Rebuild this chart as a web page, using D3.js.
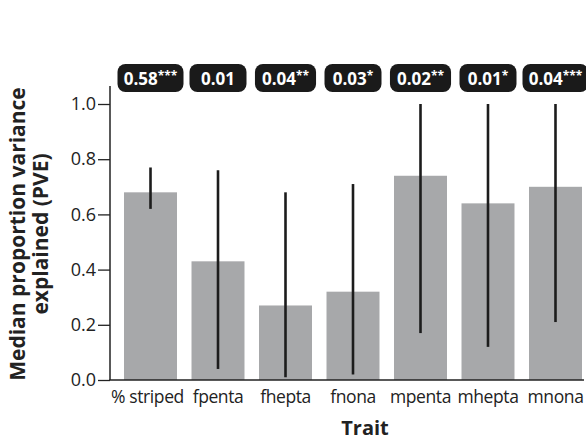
<!DOCTYPE html>
<html><head><meta charset="utf-8">
<script src="https://cdn.jsdelivr.net/npm/d3@7"></script>
<style>body{margin:0;background:#fff}svg{display:block}</style>
</head><body>
<svg id="c" width="586" height="441"></svg>
<script>
const traits = ["% striped","fpenta","fhepta","fnona","mpenta","mhepta","mnona"];
const pve = [0.68,0.43,0.27,0.32,0.74,0.64,0.70];
const lower = [0.62,0.04,0.01,0.02,0.17,0.12,0.21];
const upper = [0.77,0.76,0.68,0.71,1.0,1.0,1.0];
const pveLabel = ["0.58","0.01","0.04","0.03","0.02","0.01","0.04"];
const stars = ["***","","**","*","**","*","***"];
const yTicks = [0,0.2,0.4,0.6,0.8,1.0];

const svg = d3.select("#c");
const FONT = "'Open Sans', 'Noto Sans', sans-serif";
const y = d3.scaleLinear().domain([0,1]).range([380,104]);
const x = d3.scaleBand().domain(traits).range([109.5,596.5]).paddingInner(0.215).paddingOuter(0.215);

// bars
svg.selectAll("rect.bar").data(traits).enter().append("rect")
  .attr("x", d=>x(d)).attr("width", x.bandwidth())
  .attr("y", (d,i)=>y(pve[i])).attr("height",(d,i)=>y(0)-y(pve[i]))
  .attr("fill","#a7a8aa");
// error bars
svg.selectAll("line.err").data(traits).enter().append("line")
  .attr("x1", d=>x(d)+x.bandwidth()/2).attr("x2", d=>x(d)+x.bandwidth()/2)
  .attr("y1",(d,i)=>y(lower[i])).attr("y2",(d,i)=>y(upper[i]))
  .attr("stroke","#1c1c1c").attr("stroke-width",2.6);

// y axis
const yAxis = d3.axisLeft(y).tickValues(yTicks).tickFormat(d3.format(".1f")).tickSize(12).tickPadding(2);
const gy = svg.append("g").attr("transform","translate(110,0)").call(yAxis);
gy.select(".domain").remove();
gy.selectAll(".tick line").attr("stroke","#222").attr("stroke-width",1.3);
gy.selectAll(".tick text").attr("font-family",FONT).attr("font-size",18).attr("fill","#222");
svg.append("line").attr("x1",110).attr("x2",110).attr("y1",y(0)).attr("y2",86).attr("stroke","#222").attr("stroke-width",1.5);

// x axis
const xAxis = d3.axisBottom(x).tickSize(0).tickPadding(11);
const gx = svg.append("g").attr("transform","translate(0,380)").call(xAxis);
gx.select(".domain").remove();
gx.selectAll(".tick text").attr("font-family",FONT).attr("font-size",17.5).attr("letter-spacing",-0.4).attr("fill","#222");
gx.selectAll(".tick text").filter(d=>d==="% striped").attr("dx",-3);
svg.append("line").attr("x1",109.3).attr("x2",584).attr("y1",380).attr("y2",380).attr("stroke","#222").attr("stroke-width",1.5);

// axis titles
svg.append("text").attr("x",365).attr("y",435).attr("text-anchor","middle")
  .attr("font-family",FONT).attr("font-weight",700).attr("font-size",20).attr("fill","#222").text("Trait");
const yl = svg.append("text").attr("transform","translate(0,234) rotate(-90)")
  .attr("text-anchor","middle").attr("font-family",FONT).attr("font-weight",700).attr("font-size",21).attr("fill","#222");
yl.append("tspan").attr("x",0).attr("y",25).text("Median proportion variance");
yl.append("tspan").attr("x",0).attr("y",48).text("explained (PVE)");

// labels
traits.forEach((t,i)=>{
  const cx = x(t)+x.bandwidth()/2;
  const g = svg.append("g");
  const txt = g.append("text").attr("y",85).attr("font-family",FONT).attr("font-weight",700)
    .attr("font-size",17).attr("fill","#fff");
  txt.append("tspan").text(pveLabel[i]);
  if (stars[i]) txt.append("tspan").attr("font-size",12).attr("dy",-5).text(stars[i]);
  const w = txt.node().getComputedTextLength();
  const bw = Math.min(Math.max(w+14, 57), 66);
  txt.attr("x", cx - w/2);
  g.insert("rect","text").attr("x",cx-bw/2).attr("y",64).attr("width",bw).attr("height",28)
    .attr("rx",8).attr("fill","#1a1a1a");
});
</script>
</body></html>
